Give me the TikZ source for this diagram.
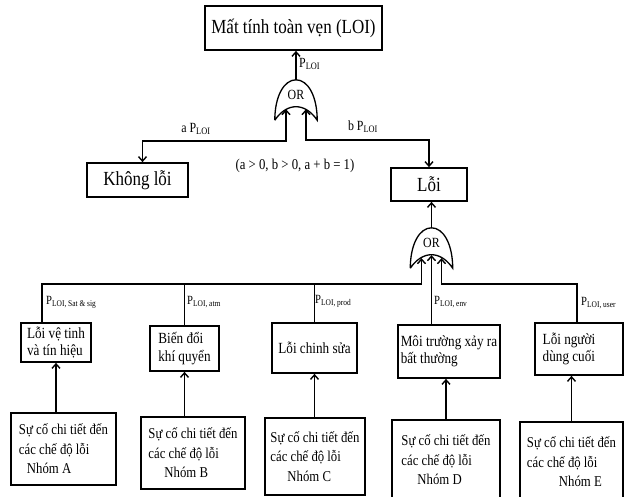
\documentclass[tikz,border=0pt]{standalone}
\usepackage{fontspec}
\setmainfont{Liberation Serif}[FakeStretch=0.85]
\usetikzlibrary{arrows.meta}

\newcommand{\ploi}[1]{P\textsubscript{LOI#1}}
\newcommand{\orline}[1]{%
  \draw[line width=1.3pt] (#1.south west)
    .. controls ([yshift=24pt]#1.south west) and ([xshift=-12pt]#1.north) .. (#1.north)
    .. controls ([xshift=12pt]#1.north) and ([yshift=24pt]#1.south east) .. (#1.south east)
    .. controls ([shift={(9pt,18pt)}]#1.south) and ([shift={(-9pt,18pt)}]#1.south) .. (#1.south west);}

\begin{document}
\begin{tikzpicture}[x=1pt, y=-1pt,
    every node/.style={inner sep=0pt},
    evt/.style={draw, line width=1.7pt, align=left},
    big/.style={font=\fontsize{20}{24}\selectfont},
    mid/.style={font=\fontsize{15.5}{17.5}\selectfont},
    low/.style={font=\fontsize{15}{19.5}\selectfont},
    lbl/.style={font=\fontsize{14}{16}\selectfont},
    plbl/.style={font=\fontsize{12.5}{14}\selectfont, anchor=west},
    gate/.style={minimum width=42pt, minimum height=40pt, text height=9pt, text depth=11pt, font=\fontsize{14}{16}\selectfont},
    ln/.style={line width=1.4pt},
    up/.style={ln, -{Straight Barb[length=4.5pt, width=8pt]}},
    feed/.style={ln, {Straight Barb[length=4.5pt, width=8pt]}-},
    both/.style={ln, {Straight Barb[length=4.5pt, width=8pt]}-{Straight Barb[length=4.5pt, width=8pt]}}]
    \useasboundingbox (0,0) rectangle (630,496);
    \clip (0,0) rectangle (630,496);
    \fill[white] (0,0) rectangle (630,496);

    % Top events
    \node[evt, big, minimum width=177pt, minimum height=44pt] (B_TOP) at (293.5, 28) {Mất tính toàn vẹn (LOI)};
    \node[gate] (G_1) at (296, 100) {OR};
    \node[evt, big, minimum width=101pt, minimum height=34pt] (B_KL) at (137.5, 180) {Không lỗi};
    \node[evt, big, minimum width=76pt, minimum height=33pt] (B_LOI) at (429, 184.5) {Lỗi};
    \node[gate] (G_2) at (431.5, 248) {OR};
    \orline{G_1} \orline{G_2}

    % Failure groups
    \node[evt, mid, minimum width=70pt, minimum height=39pt] (M_SAT) at (56, 342.5) {Lỗi vệ tinh\\và tín hiệu};
    \node[evt, mid, minimum width=69pt, minimum height=45pt] (M_ATM) at (184.5, 348.5) {Biến đổi\hspace*{6pt}\\khí quyển};
    \node[evt, mid, minimum width=85pt, minimum height=50pt] (M_PROD) at (314.5, 348) {Lỗi chinh sửa};
    \node[evt, mid, minimum width=102pt, minimum height=53pt] (M_ENV) at (449, 351.5) {Môi trường xảy ra\\bất thường};
    \node[evt, mid, minimum width=88pt, minimum height=52pt] (M_USER) at (579, 349) {Lỗi người\hspace*{20pt}\\dùng cuối};

    % Detailed failure modes
    \node[evt, low, minimum width=105pt, minimum height=72pt] (N_A) at (63.5, 449) {Sự cố chi tiết đến\\các chế độ lỗi\\\hspace*{8pt}Nhóm A};
    \node[evt, low, minimum width=104pt, minimum height=72pt] (N_B) at (193, 453) {Sự cố chi tiết đến\\các chế độ lỗi\\\hspace*{16pt}Nhóm B};
    \node[evt, low, minimum width=100pt, minimum height=77pt] (N_C) at (315, 456.5) {Sự cố chi tiết đến\\các chế độ lỗi\\\hspace*{17pt}Nhóm C};
    \node[evt, low, minimum width=108pt, minimum height=80pt] (N_D) at (446, 460) {Sự cố chi tiết đến\\các chế độ lỗi\\\hspace*{16pt}Nhóm D};
    \node[evt, low, minimum width=103pt, minimum height=80pt] (N_E) at (571.5, 462) {Sự cố chi tiết đến\\các chế độ lỗi\\\hspace*{32pt}Nhóm E};

    % Labels
    \node[lbl, anchor=west] (L_TOP) at (299, 64) {\ploi{}};
    \node[lbl] (L_A) at (196, 129) {a \ploi{}};
    \node[lbl] (L_B) at (363, 127) {b \ploi{}};
    \node[font=\fontsize{15}{17}\selectfont] (L_COND) at (295, 166) {(a > 0, b > 0, a + b = 1)};
    \node[plbl] (L_SAT) at (46, 302) {\ploi{, Sat \& sig}};
    \node[plbl] (L_ATM) at (187, 302) {\ploi{, atm}};
    \node[plbl] (L_PROD) at (315, 301) {\ploi{, prod}};
    \node[plbl] (L_ENV) at (434, 302) {\ploi{, env}};
    \node[plbl] (L_USER) at (581, 303) {\ploi{, user}};

    % Connections - upper gate
    \draw[up] (G_1.north) -- (G_1.north |- B_TOP.south);
    \draw[both] ([shift={(-10pt,11pt)}]G_1.south) |- ([shift={(5pt,21pt)}]B_KL.north) -- ([xshift=5pt]B_KL.north);
    \draw[both] ([shift={(10pt,11pt)}]G_1.south) |- ([yshift=27pt]B_LOI.north) -- (B_LOI.north);

    % Connections - lower gate and bus
    \coordinate (BUS_L) at (42, 284);
    \coordinate (BUS_R) at (577, 284);
    \draw[up] (G_2.north) -- (G_2.north |- B_LOI.south);
    \draw[feed] ([shift={(-10pt,10pt)}]G_2.south) |- (BUS_L) -- (BUS_L |- M_SAT.north);
    \draw[feed] ([yshift=13pt]G_2.south) -- (G_2.south |- M_ENV.north);
    \draw[feed] ([shift={(10pt,10pt)}]G_2.south) |- (BUS_R) -- (BUS_R |- M_USER.north);
    \draw[ln] (BUS_L -| M_ATM.north) -- (M_ATM.north);
    \draw[ln] (BUS_L -| M_PROD.north) -- (M_PROD.north);

    \draw[up] (N_A.north -| M_SAT.south) -- (M_SAT.south);
    \draw[up] (N_B.north -| M_ATM.south) -- (M_ATM.south);
    \draw[up] (N_C.north -| M_PROD.south) -- (M_PROD.south);
    \draw[up] (N_D.north) -- (N_D.north |- M_ENV.south);
    \draw[up] (N_E.north) -- (N_E.north |- M_USER.south);
\end{tikzpicture}
\end{document}
